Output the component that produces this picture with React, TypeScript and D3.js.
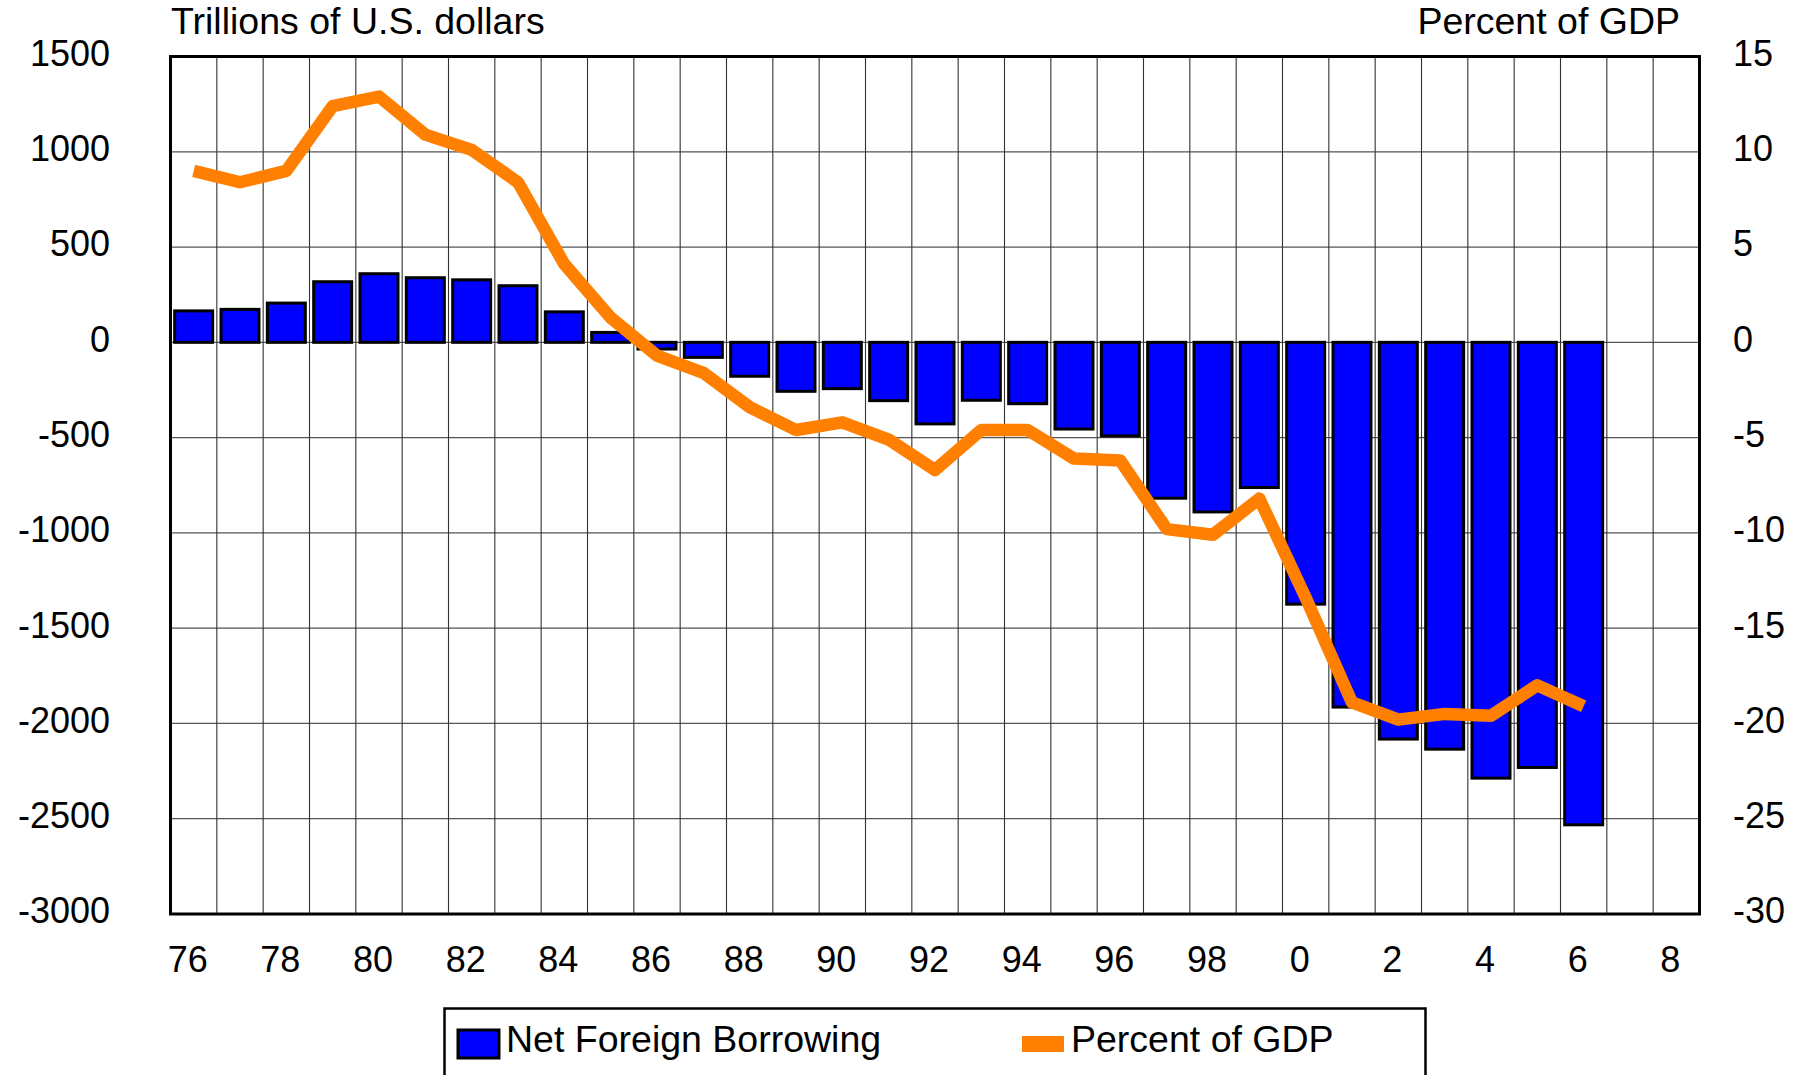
import React, { useEffect } from "react";
import * as d3 from "d3";

// ---- Data ----
const years: number[] = d3.range(1976, 2009);
const barYears: number[] = d3.range(1976, 2007);
const borrowing: number[] = [
  165, 173, 206, 318, 360, 339, 328, 297, 160, 52, -35, -79, -178, -257, -243,
  -306, -428, -304, -322, -455, -491, -818, -890, -762, -1374, -1914, -2082,
  -2135, -2287, -2231, -2532,
];
const percentGDP: number[] = [
  9.0, 8.4, 9.0, 12.4, 12.9, 10.9, 10.1, 8.4, 4.1, 1.3, -0.7, -1.6, -3.4, -4.6,
  -4.2, -5.1, -6.7, -4.6, -4.6, -6.1, -6.2, -9.8, -10.1, -8.2, -13.4, -18.9,
  -19.8, -19.5, -19.6, -18.0, -19.1,
];
const leftTicks: number[] = [1500, 1000, 500, 0, -500, -1000, -1500, -2000, -2500, -3000];
const rightTicks: number[] = [15, 10, 5, 0, -5, -10, -15, -20, -25, -30];
const xLabelYears: number[] = d3.range(1976, 2009, 2);
const leftTitle = "Trillions of U.S. dollars";
const rightTitle = "Percent of GDP";
const seriesNames = ["Net Foreign Borrowing", "Percent of GDP"];

const W = 1806;
const H = 1075;
const FONT = "'Liberation Sans', Arial, sans-serif";
const BLUE = "#0000FF";
const ORANGE = "#FF8000";

export default function App() {
  useEffect(() => {
    document.body.style.margin = "0";
    document.body.style.overflow = "hidden";
  }, []);

  const plot = { left: 170.5, right: 1699.5, top: 56.5, bottom: 914 };
  const x = d3.scaleBand<number>().domain(years).range([plot.left, plot.right]).padding(0);
  const yL = d3.scaleLinear().domain([-3000, 1500]).range([plot.bottom, plot.top]);
  const yR = d3.scaleLinear().domain([-30, 15]).range([plot.bottom, plot.top]);
  const bw = x.bandwidth();
  const barW = bw * 0.82;

  const line = d3
    .line<number>()
    .x((_, i) => (x(barYears[i]) as number) + bw / 2)
    .y((d) => yR(d));

  const fmtYear = (y: number) => String(y % 100);

  return (
    <svg width={W} height={H} style={{ display: "block", background: "#fff" }} fontFamily={FONT}>
      {/* horizontal gridlines */}
      {leftTicks.map((t) => (
        <line key={"h" + t} x1={plot.left} x2={plot.right} y1={yL(t)} y2={yL(t)} stroke="#555" strokeWidth={1.3} />
      ))}
      {/* vertical gridlines */}
      {years.map((yr) => (
        <line key={"v" + yr} x1={x(yr) as number} x2={x(yr) as number} y1={plot.top} y2={plot.bottom} stroke="#333" strokeWidth={1.1} />
      ))}
      {/* bars */}
      {borrowing.map((v, i) => {
        const cx = (x(barYears[i]) as number) + bw / 2;
        const y0 = yL(0);
        const y1 = yL(v);
        return (
          <rect
            key={"b" + i}
            x={cx - barW / 2}
            y={Math.min(y0, y1)}
            width={barW}
            height={Math.abs(y1 - y0)}
            fill={BLUE}
            stroke="#000"
            strokeWidth={3}
          />
        );
      })}
      {/* line */}
      <path d={line(percentGDP) || ""} fill="none" stroke={ORANGE} strokeWidth={12.5} strokeLinejoin="round" strokeLinecap="butt" />
      {/* border */}
      <rect x={plot.left} y={plot.top} width={plot.right - plot.left} height={plot.bottom - plot.top} fill="none" stroke="#000" strokeWidth={3} />
      {/* left ticks */}
      {leftTicks.map((t) => (
        <text key={"lt" + t} x={110} y={yL(t)} dy="0.26em" textAnchor="end" fontSize={36} fill="#000">
          {t}
        </text>
      ))}
      {/* right ticks */}
      {rightTicks.map((t) => (
        <text key={"rt" + t} x={1733} y={yR(t)} dy="0.26em" textAnchor="start" fontSize={36} fill="#000">
          {t}
        </text>
      ))}
      {/* x labels */}
      {xLabelYears.map((yr) => (
        <text key={"xl" + yr} x={(x(yr) as number) + bw / 2 - 6} y={972} textAnchor="middle" fontSize={36} fill="#000">
          {fmtYear(yr)}
        </text>
      ))}
      {/* titles */}
      <text x={171} y={34} fontSize={37.5} fill="#000">{leftTitle}</text>
      <text x={1680} y={34} fontSize={37.5} textAnchor="end" fill="#000">{rightTitle}</text>
      {/* legend */}
      <rect x={444.5} y={1008.5} width={981} height={120} fill="#fff" stroke="#000" strokeWidth={2.5} />
      <rect x={458} y={1030} width={41} height={28} fill={BLUE} stroke="#000" strokeWidth={3} />
      <text x={506} y={1052} fontSize={37.5} fill="#000">{seriesNames[0]}</text>
      <rect x={1022} y={1036} width={42} height={16} fill={ORANGE} />
      <text x={1071} y={1052} fontSize={37.5} fill="#000">{seriesNames[1]}</text>
    </svg>
  );
}
